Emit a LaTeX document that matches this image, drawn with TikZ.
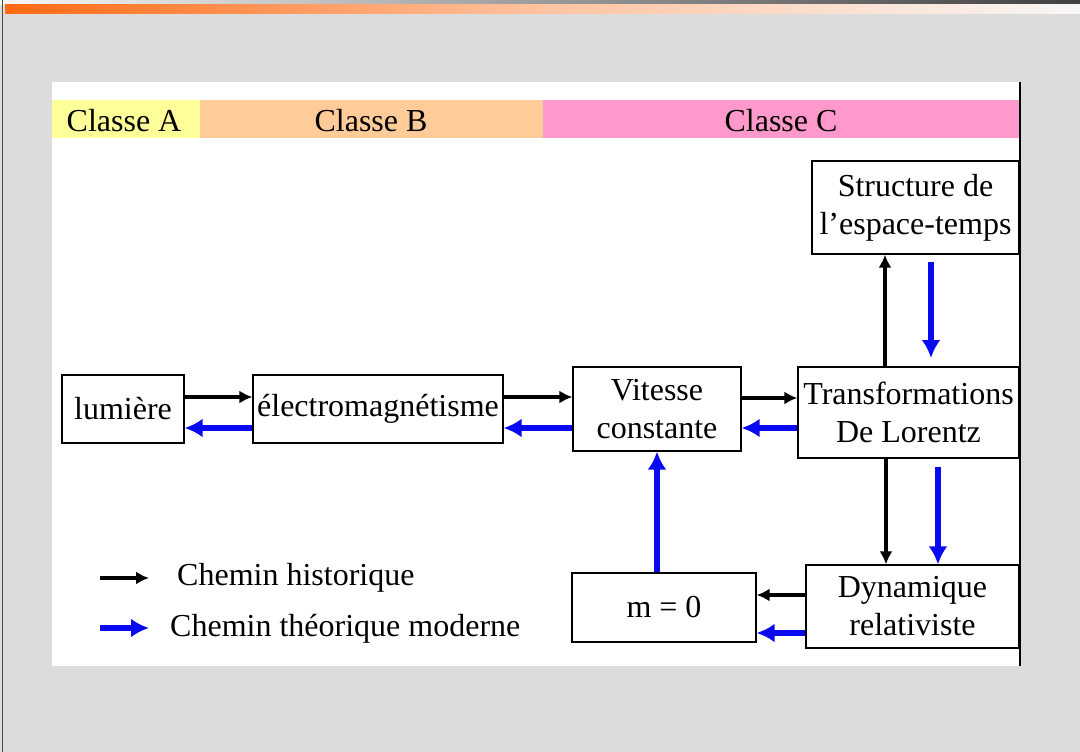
\documentclass[tikz,border=0pt]{standalone}
\usepackage{fontspec}
\setmainfont{Liberation Serif}
\usetikzlibrary{arrows.meta}
\definecolor{bggray}{HTML}{DCDCDC}
\definecolor{clA}{HTML}{FFFF99}
\definecolor{clB}{HTML}{FFCC99}
\definecolor{clC}{HTML}{FF99CC}
\definecolor{orng}{HTML}{FF6A13}
\definecolor{mblue}{HTML}{0A0AF0}
\tikzset{
  box/.style={draw=black, line width=1.3pt, fill=white, align=center, inner sep=0pt,
    font=\fontsize{32}{38}\selectfont},
  lbl/.style={font=\fontsize{32}{38}\selectfont, inner sep=0pt},
  hist/.style={draw=black, line width=3.2pt, -{Latex[length=13pt,width=13pt]}},
  modern/.style={draw=mblue, line width=5.2pt, -{Latex[length=18pt,width=19pt]}},
}
\begin{document}
\begin{tikzpicture}[x=1pt,y=-1pt]
\useasboundingbox (0,0) rectangle (1080,752);
\fill[bggray] (0,0) rectangle (1080,752);
\shade[left color=white!97!black, right color=black!75] (0,0) rectangle (1080,5);
\shade[left color=orng, right color=white!97!black, middle color=orng!40!white] (5,5) rectangle (1080,14);
\draw[black!70, line width=1.2pt] (2.5,0) -- (2.5,752);
% panel
\fill[white] (52,82) rectangle (1020,666);
\draw[black, line width=1.5pt] (1020,82) -- (1020,666);
% class bars
\fill[clA] (52,100) rectangle (200,138);
\fill[clB] (200,100) rectangle (543,138);
\fill[clC] (543,100) rectangle (1019.2,138);
\node[lbl] (ca) at (124,121) {Classe A};
\node[lbl] (cb) at (371,121) {Classe B};
\node[lbl] (cc) at (781,121) {Classe C};
% boxes
\node[box, minimum width=122pt, minimum height=68pt] (lum) at (123,409) {lumière};
\node[box, minimum width=250pt, minimum height=68pt] (em) at (378,409) {électromagnétisme};
\node[box, minimum width=168pt, minimum height=84pt] (vit) at (657,409) {Vitesse\\constante};
\node[box, minimum width=221pt, minimum height=91pt] (tl) at (908.5,412.5) {Transformations\\De Lorentz};
\node[box, minimum width=207pt, minimum height=93pt] (st) at (915.5,207.5) {Structure de\\l’espace-temps};
\node[box, minimum width=184pt, minimum height=69pt] (m0) at (664,607.5) {m = 0};
\node[box, minimum width=213pt, minimum height=83pt] (dyn) at (912.5,606.5) {Dynamique\\relativiste};
% horizontal connectors
\draw[hist] (lum.east |- 0,397) -- (em.west |- 0,397);
\draw[modern] (em.west |- 0,428) -- (lum.east |- 0,428);
\draw[hist] (em.east |- 0,397) -- (vit.west |- 0,397);
\draw[modern] (vit.west |- 0,428) -- (em.east |- 0,428);
\draw[hist] (vit.east |- 0,398) -- (tl.west |- 0,398);
\draw[modern] (tl.west |- 0,428) -- (vit.east |- 0,428);
% vertical connectors
\draw[hist] (tl.north -| 885,0) -- (st.south -| 885,0);
\coordinate (sb) at (931,262);
\coordinate (se) at (931,358);
\draw[modern] (sb) -- (se);
\draw[hist] (tl.south -| 886,0) -- (dyn.north -| 886,0);
\coordinate (tb) at (938,467);
\draw[modern] (tb) -- (dyn.north -| 938,0);
\draw[hist] (dyn.west |- 0,595) -- (m0.east |- 0,595);
\draw[modern] (dyn.west |- 0,633) -- (m0.east |- 0,633);
\draw[modern] (m0.north -| 657,0) -- (vit.south -| 657,0);
% legend
\coordinate (l1a) at (100,578);
\coordinate (l1b) at (149,578);
\coordinate (l2a) at (100,628);
\coordinate (l2b) at (149,628);
\draw[hist] (l1a) -- (l1b);
\draw[modern] (l2a) -- (l2b);
\node[lbl, anchor=west] (t1) at (177,578) {Chemin historique};
\node[lbl, anchor=west] (t2) at (170,629) {Chemin théorique moderne};
\end{tikzpicture}
\end{document}
